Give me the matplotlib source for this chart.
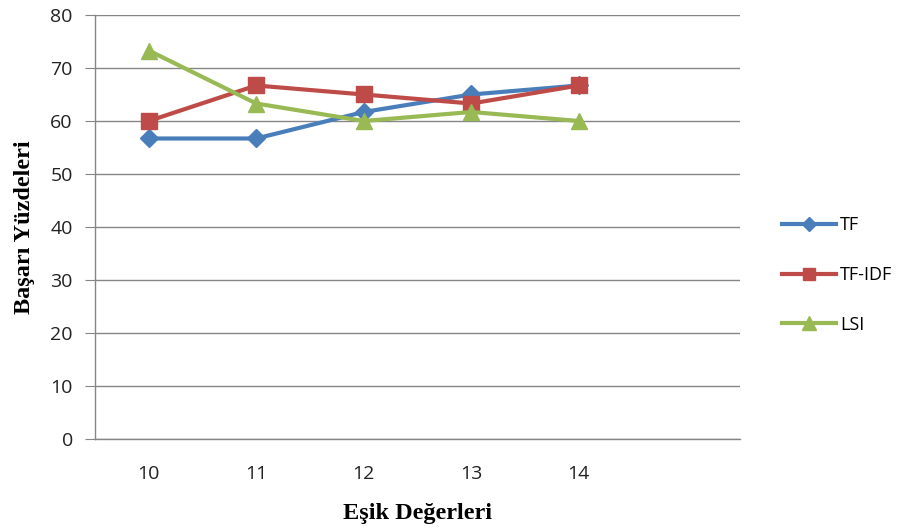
import numpy as np
from matplotlib import pyplot as plt

# Threshold values (category axis) and success percentages
categories = ["10", "11", "12", "13", "14"]
tf = [56.7, 56.7, 61.7, 65.0, 66.7]
tf_idf = [60.0, 66.7, 65.0, 63.3, 66.7]
lsi = [73.3, 63.3, 60.0, 61.7, 60.0]
y_ticks = [0, 10, 20, 30, 40, 50, 60, 70, 80]

fig = plt.figure(figsize=(9.07, 5.32), dpi=100)
ax = fig.add_axes([95 / 907, 93 / 532, 645 / 907, 424 / 532])

x = np.arange(len(categories))
grey = "#868686"

ax.plot(x, tf, color="#4A7EBB", lw=3, marker="D", ms=9, label="TF")
ax.plot(x, tf_idf, color="#BE4B48", lw=3, marker="s", ms=11, label="TF-IDF")
ax.plot(x, lsi, color="#98B954", lw=3, marker="^", ms=12, label="LSI")

ax.set_xlim(-0.5, 5.5)
ax.set_ylim(0, 80)
ax.set_xticks(x)
ax.set_xticklabels(categories)
ax.set_yticks(y_ticks)
ax.yaxis.grid(True, color=grey, lw=1)
ax.set_axisbelow(True)

for s in ["top", "right"]:
    ax.spines[s].set_visible(False)
for s in ["left", "bottom"]:
    ax.spines[s].set_color(grey)
    ax.spines[s].set_linewidth(1)

ax.tick_params(axis="x", length=0, pad=19, labelsize=14, labelcolor="#222222")
ax.tick_params(axis="y", length=7, color=grey, pad=9, labelsize=14, labelcolor="#222222")
for lab in ax.get_xticklabels() + ax.get_yticklabels():
    lab.set_family("Open Sans")

ax.set_xlabel("Eşik Değerleri", family="Liberation Serif", weight="bold", fontsize=17.5, labelpad=14)
ax.set_ylabel("Başarı Yüzdeleri", family="Liberation Serif", weight="bold", fontsize=17.5, labelpad=11)

leg = fig.legend(loc="center left", bbox_to_anchor=(766 / 907, 1 - 275 / 532), frameon=False,
                 prop={"family": "Open Sans", "size": 13}, labelspacing=1.75,
                 handlelength=3.0, handletextpad=0.2, markerscale=0.8)

fig.savefig("out.png", dpi=100)
